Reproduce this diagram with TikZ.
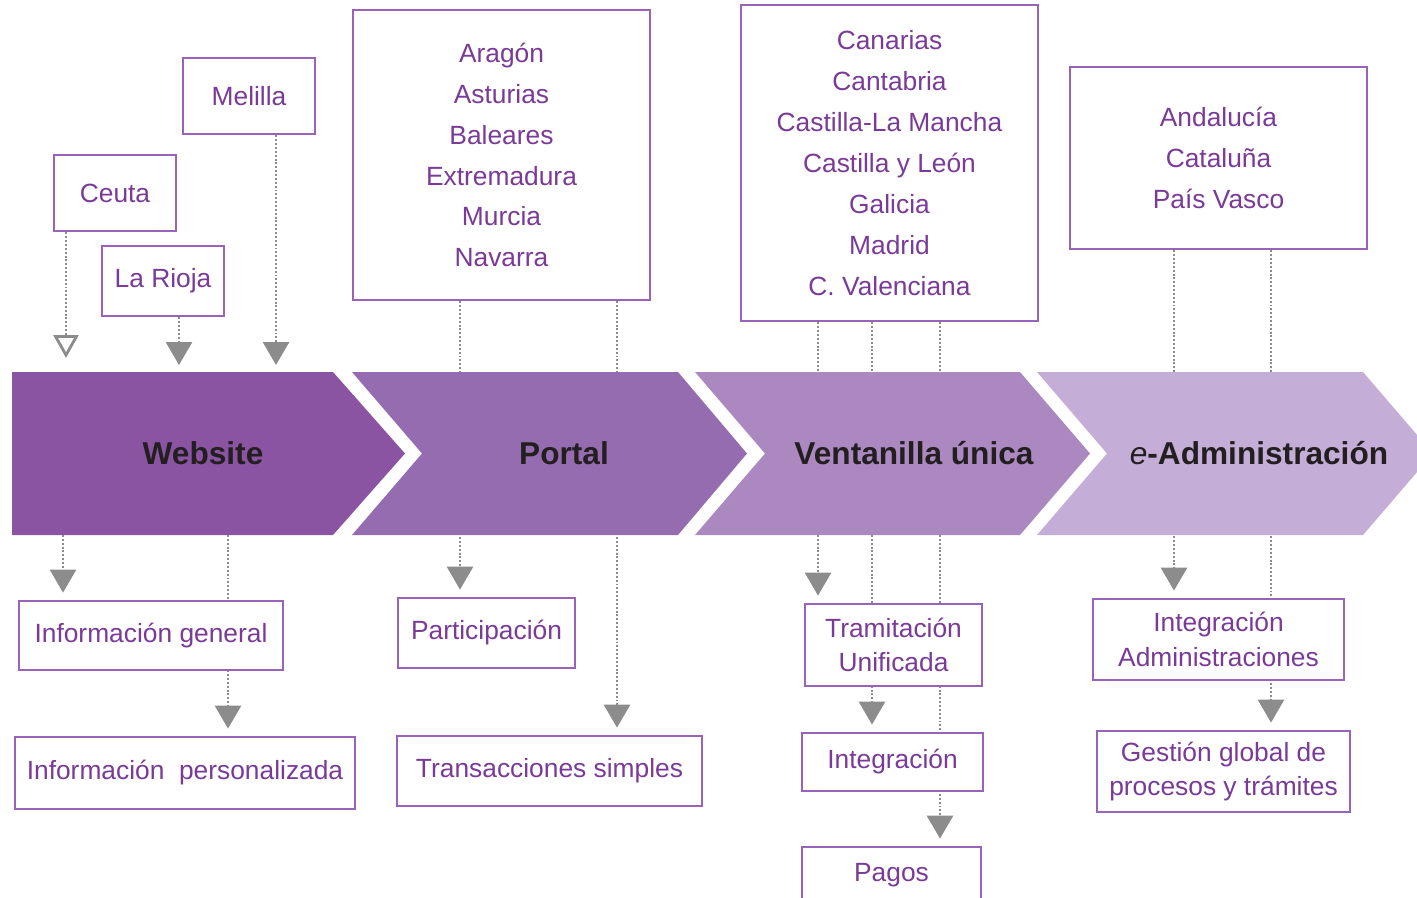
\documentclass[tikz,border=0pt]{standalone}
\usepackage{fontspec}
\setmainfont{Liberation Sans}
\usetikzlibrary{arrows.meta, backgrounds}

\definecolor{webfill}{RGB}{139,84,163}
\definecolor{portfill}{RGB}{150,108,176}
\definecolor{ventfill}{RGB}{171,136,192}
\definecolor{adminfill}{RGB}{196,173,215}
\definecolor{boxline}{RGB}{155,98,185}
\definecolor{boxtext}{RGB}{122,58,152}
\definecolor{stagetext}{RGB}{35,31,32}
\definecolor{linkgray}{RGB}{140,140,140}

\begin{document}
\begin{tikzpicture}[x=0.02cm, y=-0.02cm,
    region/.style={rectangle, draw=boxline, line width=1.6pt, fill=white, align=center, text=boxtext, inner sep=0pt, font=\fontsize{15}{23.3}\selectfont},
    service/.style={region, font=\fontsize{15}{19.8}\selectfont},
    stage/.style={text=stagetext, font=\fontsize{18}{22}\selectfont\bfseries},
    link/.style={draw=linkgray, line width=1.6pt, dash pattern=on 1.1pt off 1.1pt, shorten >=0.14cm, -{Triangle[width=0.52cm, length=0.46cm, fill=linkgray]}},
    openlink/.style={link, -{Triangle[open, width=0.5cm, length=0.46cm, fill=white]}}
]
\useasboundingbox (0,0) rectangle (1417,897);

% Regions
\node[region, minimum width=2.64cm, minimum height=1.52cm] (Melilla) at (249,96) {Melilla};
\node[region, minimum width=2.44cm, minimum height=1.52cm] (Ceuta) at (115,193) {Ceuta};
\node[region, minimum width=2.44cm, minimum height=1.4cm] (LaRioja) at (163,281) {La Rioja};
\node[region, minimum width=5.94cm, minimum height=5.8cm] (PortalList) at (501.5,155)
    {Aragón\\Asturias\\Baleares\\Extremadura\\Murcia\\Navarra};
\node[region, minimum width=5.94cm, minimum height=6.32cm] (VentanillaList) at (889.5,163)
    {Canarias\\Cantabria\\Castilla-La Mancha\\Castilla y León\\Galicia\\Madrid\\C. Valenciana};
\node[region, minimum width=5.94cm, minimum height=3.64cm] (AdminList) at (1218.5,158)
    {Andalucía\\Cataluña\\País Vasco};

% Services
\node[service, minimum width=5.28cm, minimum height=1.38cm] (InfoGeneral) at (151,635.5) {Información general};
\node[service, minimum width=6.8cm, minimum height=1.44cm] (InfoPersonal) at (185,773) {Información\ \ personalizada};
\node[service, minimum width=3.54cm, minimum height=1.4cm] (Participacion) at (486.5,633) {Participación};
\node[service, minimum width=6.1cm, minimum height=1.4cm] (Transacciones) at (549.5,771) {Transacciones simples};
\node[service, minimum width=3.54cm, minimum height=1.64cm] (Tramitacion) at (893.5,645) {Tramitación\\Unificada};
\node[service, minimum width=3.62cm, minimum height=1.16cm] (Integracion) at (892.5,762) {Integración};
\node[service, minimum width=3.58cm, minimum height=1.12cm] (Pagos) at (891.5,875) {Pagos};
\node[service, minimum width=5.02cm, minimum height=1.62cm] (IntegAdmin) at (1218.5,639.5) {Integración\\Administraciones};
\node[service, minimum width=5.06cm, minimum height=1.62cm] (GestionGlobal) at (1223.5,771.5) {Gestión global de\\procesos y trámites};

% Stages
\node[stage] (Website) at (203,453) {Website};
\node[stage] (Portal) at (564,453) {Portal};
\node[stage] (Ventanilla) at (914,453) {Ventanilla única};
\node[stage] (EAdmin) at (1259,453) {{\mdseries\itshape e}-Administración};

% Free ends
\coordinate (CeutaEnd) at (66,365);
\coordinate (RiojaEnd) at (179,372);
\coordinate (MelillaEnd) at (276,372);
\coordinate (WebA) at (63,535);
\coordinate (WebB) at (228,535);
\coordinate (PortA) at (460,535);
\coordinate (PortB) at (617,535);
\coordinate (VentA) at (818,535);
\coordinate (VentB) at (872,535);
\coordinate (VentC) at (940,535);
\coordinate (AdmA) at (1174,535);
\coordinate (AdmB) at (1271,535);

\begin{pgfonlayer}{background}
% Connections
\draw[openlink] (Ceuta.south -| CeutaEnd) -- (CeutaEnd);
\draw[link] (LaRioja.south -| RiojaEnd) -- (RiojaEnd);
\draw[link] (Melilla.south -| MelillaEnd) -- (MelillaEnd);
\draw[link] (WebA) -- (InfoGeneral.north -| WebA);
\draw[link] (WebB) -- (InfoPersonal.north -| WebB);
\draw[link] (PortalList.south -| PortA) -- (Participacion.north -| PortA);
\draw[link] (PortalList.south -| PortB) -- (Transacciones.north -| PortB);
\draw[link] (VentanillaList.south -| VentA) -- (Tramitacion.north -| VentA);
\draw[link] (VentanillaList.south -| VentB) -- (Integracion.north -| VentB);
\draw[link] (VentanillaList.south -| VentC) -- (Pagos.north -| VentC);
\draw[link] (AdminList.south -| AdmA) -- (IntegAdmin.north -| AdmA);
\draw[link] (AdminList.south -| AdmB) -- (GestionGlobal.north -| AdmB);

% Chevrons
\fill[webfill] (12,372) -- (333,372) -- (405,453.5) -- (333,535) -- (12,535) -- cycle;
\fill[portfill] (352,372) -- (678,372) -- (747,453.5) -- (678,535) -- (352,535) -- (422,453.5) -- cycle;
\fill[ventfill] (695,372) -- (1020,372) -- (1090,453.5) -- (1020,535) -- (695,535) -- (765,453.5) -- cycle;
\fill[adminfill] (1037,372) -- (1363,372) -- (1433,453.5) -- (1363,535) -- (1037,535) -- (1107,453.5) -- cycle;
\end{pgfonlayer}

\end{tikzpicture}
\end{document}
